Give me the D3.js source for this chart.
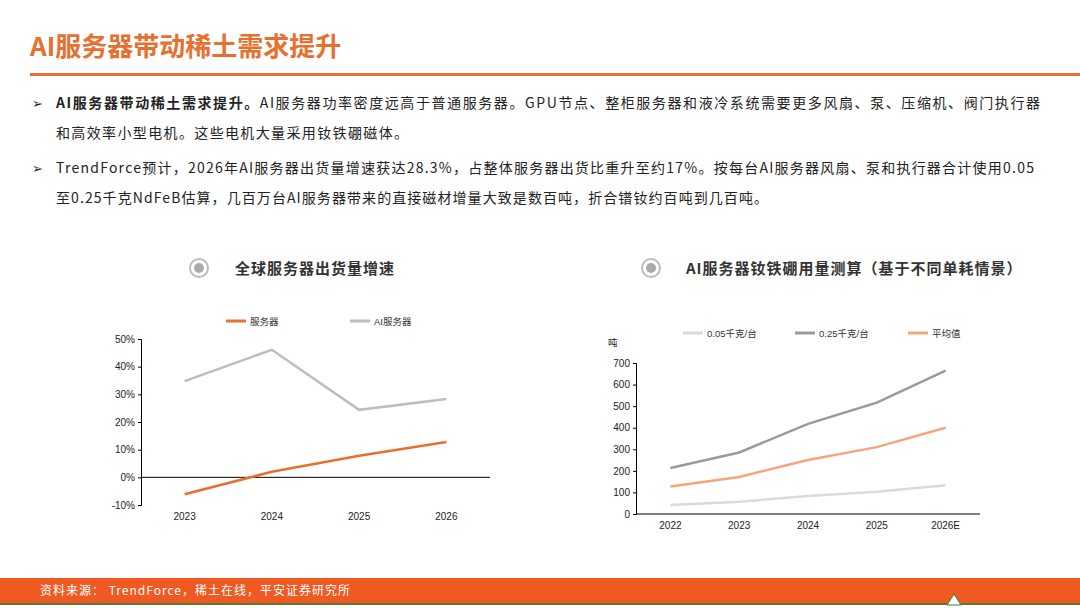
<!DOCTYPE html>
<html><head><meta charset="utf-8">
<script src="https://cdn.jsdelivr.net/npm/d3@7"></script>
<style>
body{margin:0;background:#fff;}
svg{display:block;font-family:"Noto Sans CJK SC","Noto Sans",sans-serif;}
</style></head>
<body><svg id="c" width="1080" height="608"></svg>
<script>
// data
const years1 = ["2023", "2024", "2025", "2026"];
const serverGrowth = [-6.1, 2.0, 7.8, 12.8];
const aiServerGrowth = [34.8, 46.1, 24.4, 28.3];
const ticks1 = [-10, 0, 10, 20, 30, 40, 50];

const years2 = ["2022", "2023", "2024", "2025", "2026E"];
const low005 = [42, 57, 83, 103, 133];
const high025 = [213, 285, 418, 516, 665];
const avgVal = [127, 172, 250, 310, 400];
const ticks2 = [0, 100, 200, 300, 400, 500, 600, 700];

const orange = "#E8702E";
const svg = d3.select("#c");

// header
svg.append("text").attr("x", 30).attr("y", 56).attr("font-size", 26).attr("font-weight", "bold")
  .attr("fill", orange).text("AI服务器带动稀土需求提升");
svg.append("rect").attr("x", 30).attr("y", 73).attr("width", 1050).attr("height", 3).attr("fill", orange);

// bullets
const lines = [
  {y: 108, bullet: true, len: 984, parts: [["AI服务器带动稀土需求提升。", true], ["AI服务器功率密度远高于普通服务器。GPU节点、整柜服务器和液冷系统需要更多风扇、泵、压缩机、阀门执行器", false]]},
  {y: 138, len: 352, parts: [["和高效率小型电机。这些电机大量采用钕铁硼磁体。", false]]},
  {y: 173, bullet: true, len: 978, parts: [["TrendForce预计，2026年AI服务器出货量增速获达28.3%，占整体服务器出货比重升至约17%。按每台AI服务器风扇、泵和执行器合计使用0.05", false]]},
  {y: 203, len: 712, parts: [["至0.25千克NdFeB估算，几百万台AI服务器带来的直接磁材增量大致是数百吨，折合镨钕约百吨到几百吨。", false]]}
];
lines.forEach(l => {
  if (l.bullet) svg.append("text").attr("x", 32).attr("y", l.y).attr("font-size", 13).attr("fill", "#222").text("➢");
  const t = svg.append("text").attr("x", 56).attr("y", l.y).attr("font-size", 14).attr("fill", "#222")
    .attr("textLength", l.len).attr("lengthAdjust", "spacing");
  l.parts.forEach(p => t.append("tspan").attr("font-weight", p[1] ? "bold" : "normal").text(p[0]));
});

// section titles
function sectionTitle(cx, tx, label) {
  svg.append("circle").attr("cx", cx).attr("cy", 268).attr("r", 9).attr("fill", "none").attr("stroke", "#bbb").attr("stroke-width", 2);
  svg.append("circle").attr("cx", cx).attr("cy", 268).attr("r", 5).attr("fill", "#aaa");
  svg.append("text").attr("x", tx).attr("y", 274).attr("font-size", 15).attr("font-weight", "bold")
    .attr("fill", "#333").attr("letter-spacing", 1).text(label);
}
sectionTitle(199, 235, "全球服务器出货量增速");
sectionTitle(651, 686, "AI服务器钕铁硼用量测算（基于不同单耗情景）");

function legend(items, y) {
  items.forEach(it => {
    svg.append("line").attr("x1", it.x).attr("x2", it.x + 20).attr("y1", y).attr("y2", y)
      .attr("stroke", it.c).attr("stroke-width", 3);
    svg.append("text").attr("x", it.x + 24).attr("y", y + 3.5).attr("font-size", 9.5)
      .attr("fill", "#333").attr("font-family", "Liberation Sans, Noto Sans CJK SC").text(it.t);
  });
}

// chart 1
const x1 = d3.scalePoint().domain(years1).range([141, 490]).padding(0.5);
const y1 = d3.scaleLinear().domain([-10, 50]).range([505, 339]);
const ax1 = svg.append("g").attr("transform", "translate(141,0)")
  .call(d3.axisLeft(y1).tickValues(ticks1).tickFormat(d => d + "%").tickSize(3));
svg.append("line").attr("x1", 141).attr("x2", 490).attr("y1", y1(0)).attr("y2", y1(0)).attr("stroke", "#000");
years1.forEach(yr => svg.append("text").attr("x", x1(yr)).attr("y", 520).attr("text-anchor", "middle")
  .attr("font-size", 10).attr("font-family", "Liberation Sans").attr("fill", "#222").text(yr));
const line1 = vals => d3.line().x((d, i) => x1(years1[i])).y(d => y1(d))(vals);
svg.append("path").attr("d", line1(aiServerGrowth)).attr("fill", "none").attr("stroke", "#BDBDBD").attr("stroke-width", 2.5);
svg.append("path").attr("d", line1(serverGrowth)).attr("fill", "none").attr("stroke", orange).attr("stroke-width", 2.5);
legend([{x: 226, c: orange, t: "服务器"}, {x: 350, c: "#BDBDBD", t: "AI服务器"}], 321);

// chart 2
const x2 = d3.scalePoint().domain(years2).range([636, 980]).padding(0.5);
const y2 = d3.scaleLinear().domain([0, 700]).range([514, 363]);
const ax2 = svg.append("g").attr("transform", "translate(636,0)")
  .call(d3.axisLeft(y2).tickValues(ticks2).tickSize(3));
svg.append("line").attr("x1", 636).attr("x2", 980).attr("y1", y2(0)).attr("y2", y2(0)).attr("stroke", "#000");
years2.forEach(yr => svg.append("text").attr("x", x2(yr)).attr("y", 529).attr("text-anchor", "middle")
  .attr("font-size", 10).attr("font-family", "Liberation Sans").attr("fill", "#222").text(yr));
const line2 = vals => d3.line().x((d, i) => x2(years2[i])).y(d => y2(d))(vals);
svg.append("path").attr("d", line2(low005)).attr("fill", "none").attr("stroke", "#DADADA").attr("stroke-width", 2.5);
svg.append("path").attr("d", line2(high025)).attr("fill", "none").attr("stroke", "#9A9A9A").attr("stroke-width", 2.5);
svg.append("path").attr("d", line2(avgVal)).attr("fill", "none").attr("stroke", "#F2A77A").attr("stroke-width", 2.5);
legend([{x: 683, c: "#DADADA", t: "0.05千克/台"}, {x: 795, c: "#9A9A9A", t: "0.25千克/台"}, {x: 908, c: "#F2A77A", t: "平均值"}], 333);
svg.append("text").attr("x", 608).attr("y", 346).attr("font-size", 9.5).attr("fill", "#222").text("吨");

[ax1, ax2].forEach(a => {
  a.select(".domain").attr("stroke", "#000");
  a.selectAll("text").attr("font-size", 10).attr("font-family", "Liberation Sans").attr("fill", "#222");
});

// footer
svg.append("rect").attr("x", 0).attr("y", 578).attr("width", 1080).attr("height", 25).attr("fill", "#F05A22");
svg.append("rect").attr("x", 0).attr("y", 603).attr("width", 1080).attr("height", 2).attr("fill", "#5B7A3A");
svg.append("text").attr("x", 40).attr("y", 595).attr("font-size", 12).attr("fill", "#fff")
  .attr("letter-spacing", 1).text("资料来源： TrendForce，稀土在线，平安证券研究所");
svg.append("path").attr("d", "M947,605 L954,594 L961,605 Z").attr("fill", "#fff").attr("stroke", "#3a7a3a");
</script></body></html>
